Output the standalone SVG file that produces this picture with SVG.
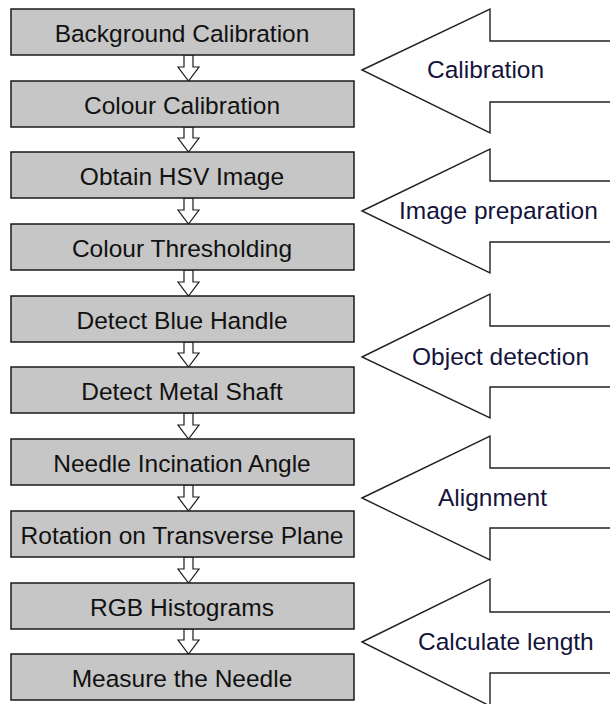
<svg xmlns="http://www.w3.org/2000/svg" width="610" height="704" viewBox="0 0 610 704">
<style>
.box{fill:#c6c6c6;stroke:#1a1a1a;stroke-width:1.5}
.bt{font-family:"Liberation Sans",Arial,sans-serif;font-size:24.5px;fill:#111;text-anchor:middle}
.big{fill:#fff;stroke:#222;stroke-width:1.4}
.lt{font-family:"Liberation Sans",Arial,sans-serif;font-size:24.5px;fill:#14143a}
.sm{fill:#fff;stroke:#1a1a1a;stroke-width:1.2}
</style>
<rect width="610" height="704" fill="#fff"/>
<g id="phase-calibration"><polygon class="big" points="362,70 490,9 490,41 612,41 612,102 490,102 490,133"/><text class="lt" x="427" y="78">Calibration</text></g>
<g id="phase-image-preparation"><polygon class="big" points="362,211 490,149 490,181 612,181 612,242 490,242 490,273"/><text class="lt" x="399" y="219">Image preparation</text></g>
<g id="phase-object-detection"><polygon class="big" points="362,357 490,294 490,326 612,326 612,387 490,387 490,418"/><text class="lt" x="412" y="365">Object detection</text></g>
<g id="phase-alignment"><polygon class="big" points="362,498 490,436 490,468 612,468 612,528 490,528 490,560"/><text class="lt" x="438" y="506">Alignment</text></g>
<g id="phase-calculate-length"><polygon class="big" points="362,642 490,579 490,612 612,612 612,673 490,673 490,706"/><text class="lt" x="418" y="650">Calculate length</text></g>
<g id="connectors">
<path class="sm" d="M184,55 V67 H178 L188.5,81 L199,67 H193 V55 Z"/>
<path class="sm" d="M184,127 V138 H178 L188.5,152 L199,138 H193 V127 Z"/>
<path class="sm" d="M184,198 V210 H178 L188.5,224 L199,210 H193 V198 Z"/>
<path class="sm" d="M184,270 V282 H178 L188.5,296 L199,282 H193 V270 Z"/>
<path class="sm" d="M184,342 V353 H178 L188.5,367 L199,353 H193 V342 Z"/>
<path class="sm" d="M184,413 V425 H178 L188.5,439 L199,425 H193 V413 Z"/>
<path class="sm" d="M184,485 V497 H178 L188.5,511 L199,497 H193 V485 Z"/>
<path class="sm" d="M184,557 V569 H178 L188.5,583 L199,569 H193 V557 Z"/>
<path class="sm" d="M184,629 V640 H178 L188.5,654 L199,640 H193 V629 Z"/>
</g>
<g id="n1"><rect class="box" x="11" y="9" width="343" height="46"/><text class="bt" x="182" y="41.5">Background Calibration</text></g>
<g id="n2"><rect class="box" x="11" y="81" width="343" height="46"/><text class="bt" x="182" y="113.5">Colour Calibration</text></g>
<g id="n3"><rect class="box" x="11" y="152" width="343" height="46"/><text class="bt" x="182" y="184.5">Obtain HSV Image</text></g>
<g id="n4"><rect class="box" x="11" y="224" width="343" height="46"/><text class="bt" x="182" y="256.5">Colour Thresholding</text></g>
<g id="n5"><rect class="box" x="11" y="296" width="343" height="46"/><text class="bt" x="182" y="328.5">Detect Blue Handle</text></g>
<g id="n6"><rect class="box" x="11" y="367" width="343" height="46"/><text class="bt" x="182" y="399.5">Detect Metal Shaft</text></g>
<g id="n7"><rect class="box" x="11" y="439" width="343" height="46"/><text class="bt" x="182" y="471.5">Needle Incination Angle</text></g>
<g id="n8"><rect class="box" x="11" y="511" width="343" height="46"/><text class="bt" x="182" y="543.5">Rotation on Transverse Plane</text></g>
<g id="n9"><rect class="box" x="11" y="583" width="343" height="46"/><text class="bt" x="182" y="615.5">RGB Histograms</text></g>
<g id="n10"><rect class="box" x="11" y="654" width="343" height="46"/><text class="bt" x="182" y="686.5">Measure the Needle</text></g>
</svg>
